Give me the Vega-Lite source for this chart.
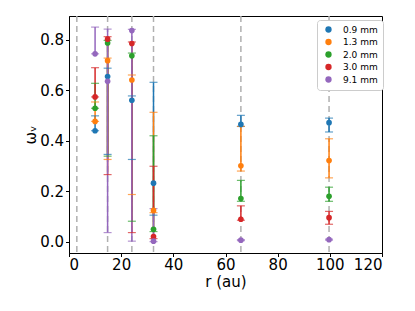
{
  "$schema": "https://vega.github.io/schema/vega-lite/v6.json",
  "width": 313,
  "height": 237,
  "autosize": "none",
  "padding": {"left": 69, "top": 16, "right": 33, "bottom": 58},
  "background": "white",
  "config": {
    "font": "DejaVu Sans",
    "view": {"stroke": "#000000", "strokeWidth": 1},
    "axis": {"grid": false, "domainColor": "#000000", "tickColor": "#000000", "labelColor": "#000000", "titleColor": "#000000", "labelFont": "DejaVu Sans", "titleFont": "DejaVu Sans", "labelFontSize": 15, "titleFontSize": 15, "titleFontWeight": "normal", "tickSize": 3.5, "labelPadding": 1}
  },
  "datasets": {
    "pts": [
      {"r": 10.0, "band": "0.9 mm", "w": 0.440, "lo": 0.440, "hi": 0.499},
      {"r": 10.0, "band": "1.3 mm", "w": 0.477, "lo": 0.477, "hi": 0.554},
      {"r": 10.0, "band": "2.0 mm", "w": 0.529, "lo": 0.529, "hi": 0.628},
      {"r": 10.0, "band": "3.0 mm", "w": 0.574, "lo": 0.574, "hi": 0.690},
      {"r": 10.0, "band": "9.1 mm", "w": 0.745, "lo": 0.745, "hi": 0.851},
      {"r": 14.8, "band": "0.9 mm", "w": 0.655, "lo": 0.346, "hi": 0.688},
      {"r": 14.8, "band": "1.3 mm", "w": 0.718, "lo": 0.326, "hi": 0.728},
      {"r": 14.8, "band": "2.0 mm", "w": 0.788, "lo": 0.339, "hi": 0.798},
      {"r": 14.8, "band": "3.0 mm", "w": 0.803, "lo": 0.266, "hi": 0.813},
      {"r": 14.8, "band": "9.1 mm", "w": 0.636, "lo": 0.036, "hi": 0.843},
      {"r": 24.1, "band": "0.9 mm", "w": 0.561, "lo": 0.326, "hi": 0.578},
      {"r": 24.1, "band": "1.3 mm", "w": 0.641, "lo": 0.187, "hi": 0.661},
      {"r": 24.1, "band": "2.0 mm", "w": 0.737, "lo": 0.081, "hi": 0.748},
      {"r": 24.1, "band": "3.0 mm", "w": 0.786, "lo": 0.036, "hi": 0.792},
      {"r": 24.1, "band": "9.1 mm", "w": 0.837, "lo": 0.002, "hi": 0.842},
      {"r": 32.4, "band": "0.9 mm", "w": 0.232, "lo": 0.105, "hi": 0.632},
      {"r": 32.4, "band": "1.3 mm", "w": 0.124, "lo": 0.115, "hi": 0.513},
      {"r": 32.4, "band": "2.0 mm", "w": 0.049, "lo": 0.040, "hi": 0.420},
      {"r": 32.4, "band": "3.0 mm", "w": 0.020, "lo": 0.012, "hi": 0.299},
      {"r": 32.4, "band": "9.1 mm", "w": 0.002, "lo": 0.000, "hi": 0.131},
      {"r": 65.9, "band": "0.9 mm", "w": 0.465, "lo": 0.457, "hi": 0.501},
      {"r": 65.9, "band": "1.3 mm", "w": 0.301, "lo": 0.280, "hi": 0.457},
      {"r": 65.9, "band": "2.0 mm", "w": 0.171, "lo": 0.160, "hi": 0.243},
      {"r": 65.9, "band": "3.0 mm", "w": 0.089, "lo": 0.085, "hi": 0.142},
      {"r": 65.9, "band": "9.1 mm", "w": 0.006, "lo": 0.004, "hi": 0.008},
      {"r": 99.7, "band": "0.9 mm", "w": 0.472, "lo": 0.435, "hi": 0.490},
      {"r": 99.7, "band": "1.3 mm", "w": 0.322, "lo": 0.253, "hi": 0.408},
      {"r": 99.7, "band": "2.0 mm", "w": 0.180, "lo": 0.160, "hi": 0.216},
      {"r": 99.7, "band": "3.0 mm", "w": 0.095, "lo": 0.069, "hi": 0.120},
      {"r": 99.7, "band": "9.1 mm", "w": 0.008, "lo": 0.006, "hi": 0.010}
    ],
    "gaps": [{"r": 3.0}, {"r": 14.8}, {"r": 24.1}, {"r": 32.4}, {"r": 65.9}, {"r": 99.7}]
  },
  "layer": [
    {
      "data": {"name": "gaps"},
      "mark": {"type": "rule", "color": "#b0b0b0", "strokeWidth": 1.5, "strokeDash": [6, 4]},
      "encoding": {
        "x": {"field": "r", "type": "quantitative", "scale": {"domain": [0, 120], "nice": false, "zero": false},
              "axis": {"title": "r (au)", "values": [0, 20, 40, 60, 80, 100, 120], "titlePadding": 2}}
      }
    },
    {
      "data": {"name": "pts"},
      "mark": {"type": "rule", "strokeWidth": 1.5},
      "encoding": {
        "x": {"field": "r", "type": "quantitative"},
        "y": {"field": "lo", "type": "quantitative", "scale": {"domain": [-0.045, 0.895], "nice": false, "zero": false},
              "axis": {"title": "ωᵥ", "values": [0, 0.2, 0.4, 0.6, 0.8], "format": ".1f", "titlePadding": 1, "labelPadding": 2}},
        "y2": {"field": "hi"},
        "color": {"field": "band", "type": "nominal",
                  "scale": {"domain": ["0.9 mm", "1.3 mm", "2.0 mm", "3.0 mm", "9.1 mm"], "range": ["#1f77b4", "#ff7f0e", "#2ca02c", "#d62728", "#9467bd"]},
                  "legend": {"title": null, "orient": "none", "legendX": 248, "legendY": 4, "labelFontSize": 9, "labelFont": "DejaVu Sans", "labelColor": "#000000",
                             "symbolType": "circle", "symbolSize": 40, "symbolStrokeWidth": 0, "symbolOpacity": 1, "rowPadding": 2.5, "padding": 5, "strokeColor": "#cccccc", "fillColor": "white", "cornerRadius": 3, "labelOffset": 10, "symbolOffset": 2,
                             "encode": {"symbols": {"update": {"opacity": {"value": 1}, "fillOpacity": {"value": 1}, "strokeOpacity": {"value": 1}}}}}}
      }
    },
    {
      "data": {"name": "pts"},
      "mark": {"type": "tick", "orient": "horizontal", "size": 8, "thickness": 1.2},
      "encoding": {
        "x": {"field": "r", "type": "quantitative"},
        "y": {"field": "lo", "type": "quantitative"},
        "color": {"field": "band", "type": "nominal"}
      }
    },
    {
      "data": {"name": "pts"},
      "mark": {"type": "tick", "orient": "horizontal", "size": 8, "thickness": 1.2},
      "encoding": {
        "x": {"field": "r", "type": "quantitative"},
        "y": {"field": "hi", "type": "quantitative"},
        "color": {"field": "band", "type": "nominal"}
      }
    },
    {
      "data": {"name": "pts"},
      "mark": {"type": "circle", "opacity": 1, "size": 32},
      "encoding": {
        "x": {"field": "r", "type": "quantitative"},
        "y": {"field": "w", "type": "quantitative"},
        "color": {"field": "band", "type": "nominal"}
      }
    }
  ]
}
